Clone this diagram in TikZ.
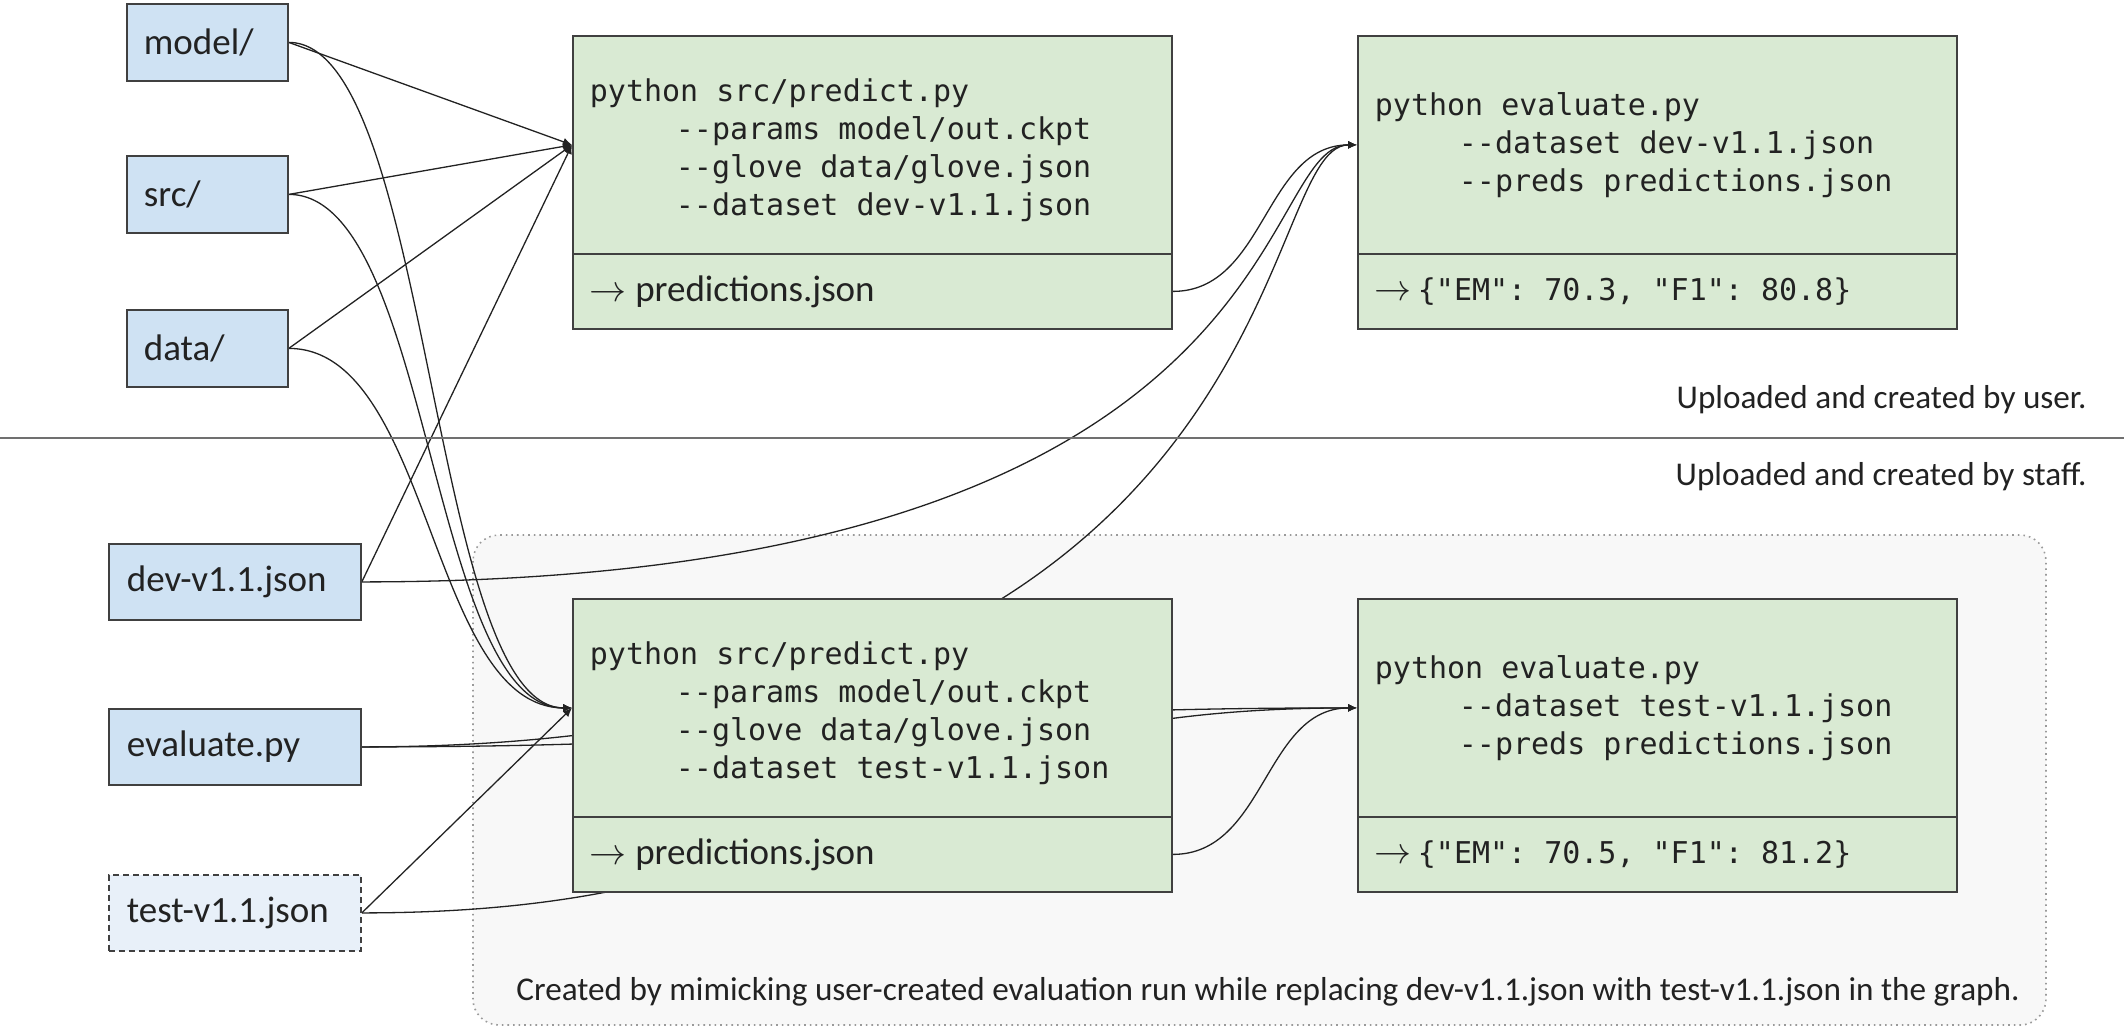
\documentclass[tikz,border=0pt]{standalone}
\usepackage{fix-cm}
\usepackage{fontspec}
\setmainfont{Carlito}
\newfontfamily\codefont{DejaVu Sans Mono}
\usetikzlibrary{arrows.meta}
\definecolor{boxblue}{HTML}{CFE2F3}
\definecolor{boxbluelight}{HTML}{E8F0F9}
\definecolor{boxgreen}{HTML}{D9EAD3}
\definecolor{edgegray}{HTML}{404040}
\definecolor{panelgray}{HTML}{F8F8F8}
\definecolor{dotgray}{HTML}{9A9A9A}
\definecolor{rulegray}{HTML}{707070}
\definecolor{inkgray}{HTML}{222222}
\newcommand\monosp{\spaceskip=0.602em\relax\xspaceskip=0.602em\relax}
\newcommand\raisefill{\rule{0pt}{17pt}}
\pgfdeclarelayer{panel}
\pgfdeclarelayer{wires}
\pgfsetlayers{panel,wires,main}
\begin{document}
\begin{tikzpicture}[x=0.5pt,y=-0.5pt,
  filebox/.style={draw=edgegray, line width=0.9pt, fill=boxblue, anchor=north west,
    inner ysep=0pt, align=flush left, text=inkgray, font=\fontsize{18.5}{22}\selectfont},
  dirbox/.style={filebox, inner xsep=8.5pt, text width=63.5pt, minimum height=38.5pt},
  databox/.style={filebox, inner xsep=9pt, text width=108pt, minimum height=38pt},
  stagedbox/.style={databox, fill=boxbluelight, dash pattern=on 3pt off 2pt},
  cmdbox/.style={draw=edgegray, line width=0.9pt, fill=boxgreen, anchor=north west,
    inner xsep=8.5pt, inner ysep=0pt, text width=282.5pt, minimum height=109pt,
    align=flush left, text=inkgray, font=\codefont\fontsize{15}{19}\selectfont\monosp},
  outbox/.style={cmdbox, minimum height=37.5pt, font=\fontsize{18.5}{22}\selectfont},
  wire/.style={draw=inkgray, line width=0.65pt},
  arrowwire/.style={wire, -{Latex[length=4.5pt,width=4pt]}},
  note/.style={font=\fontsize{16.6}{20}\selectfont, text=inkgray, inner sep=0pt}
]
\useasboundingbox (0,0) rectangle (2124,1029);

% input files
\node[dirbox] (model) at (126,3) {model/};
\node[dirbox] (src) at (126,155) {src/};
\node[dirbox] (data) at (126,309) {data/};
\node[databox] (dev) at (108,543) {dev-v1.1.json};
\node[databox] (evalpy) at (108,708) {evaluate.py};
\node[stagedbox] (test) at (108,874) {test-v1.1.json};

% user runs
\node[cmdbox] (ptop) at (572,35) {\monosp\raisefill python src/predict.py\\
\hspace*{43pt}--params model/out.ckpt\\
\hspace*{43pt}--glove data/glove.json\\
\hspace*{43pt}--dataset dev-v1.1.json};
\node[outbox] (pout) at (572,253) {$\rightarrow$ predictions.json};
\node[cmdbox] (etop) at (1357,35) {\monosp python evaluate.py\\
\hspace*{42pt}--dataset dev-v1.1.json\\
\hspace*{42pt}--preds predictions.json};
\node[outbox] (eout) at (1357,253) {$\rightarrow$\hspace{3pt}{\codefont\fontsize{15}{19}\selectfont\monosp\{"EM": 70.3, "F1": 80.8\}}};

% staff runs
\node[cmdbox] (pbot) at (572,598) {\monosp\raisefill python src/predict.py\\
\hspace*{43pt}--params model/out.ckpt\\
\hspace*{43pt}--glove data/glove.json\\
\hspace*{43pt}--dataset test-v1.1.json};
\node[outbox] (pbout) at (572,816) {$\rightarrow$ predictions.json};
\node[cmdbox] (ebot) at (1357,598) {\monosp python evaluate.py\\
\hspace*{42pt}--dataset test-v1.1.json\\
\hspace*{42pt}--preds predictions.json};
\node[outbox] (ebout) at (1357,816) {$\rightarrow$\hspace{3pt}{\codefont\fontsize{15}{19}\selectfont\monosp\{"EM": 70.5, "F1": 81.2\}}};

% notes
\node[note, anchor=base east] (usernote) at (2087,408) {Uploaded and created by user.};
\node[note, anchor=base east] (staffnote) at (2087,485) {Uploaded and created by staff.};
\node[note, anchor=base] (caption) at (1268,1000) {Created by mimicking user-created evaluation run while replacing dev-v1.1.json with test-v1.1.json in the graph.};

% separator
\coordinate (sepL) at (0,438);
\coordinate (sepR) at (2124,438);
\draw[rulegray, line width=0.8pt] (sepL) -- (sepR);

\begin{pgfonlayer}{panel}
  \draw[dotgray, fill=panelgray, dotted, line width=0.8pt, rounded corners=13pt]
    (473,535) rectangle (2046,1025);
\end{pgfonlayer}

\begin{pgfonlayer}{wires}
  % to predict (user)
  \draw[arrowwire] (model.east) -- (ptop.west);
  \draw[arrowwire] (src.east) -- (ptop.west);
  \draw[arrowwire] (data.east) -- (ptop.west);
  \draw[arrowwire] (dev.east) -- (ptop.west);
  % to evaluate (user)
  \draw[arrowwire] (pout.east) .. controls +(93,0) and +(-93,0) .. (etop.west);
  \draw[arrowwire] (dev.east) .. controls +(940,0) and +(-105,0) .. (etop.west);
  \draw[arrowwire] (evalpy.east) .. controls +(940,0) and +(-105,0) .. (etop.west);
  % to predict (staff)
  \draw[arrowwire] (model.east) .. controls +(142.5,0) and +(-142.5,0) .. (pbot.west);
  \draw[arrowwire] (src.east) .. controls +(142.5,0) and +(-142.5,0) .. (pbot.west);
  \draw[arrowwire] (data.east) .. controls +(142.5,0) and +(-142.5,0) .. (pbot.west);
  \draw[arrowwire] (test.east) -- (pbot.west);
  % to evaluate (staff)
  \draw[arrowwire] (pbout.east) .. controls +(93,0) and +(-93,0) .. (ebot.west);
  \draw[arrowwire] (evalpy.east) .. controls +(498,0) and +(-498,0) .. (ebot.west);
  \draw[arrowwire] (test.east) .. controls +(498,0) and +(-498,0) .. (ebot.west);
\end{pgfonlayer}
\end{tikzpicture}
\end{document}
